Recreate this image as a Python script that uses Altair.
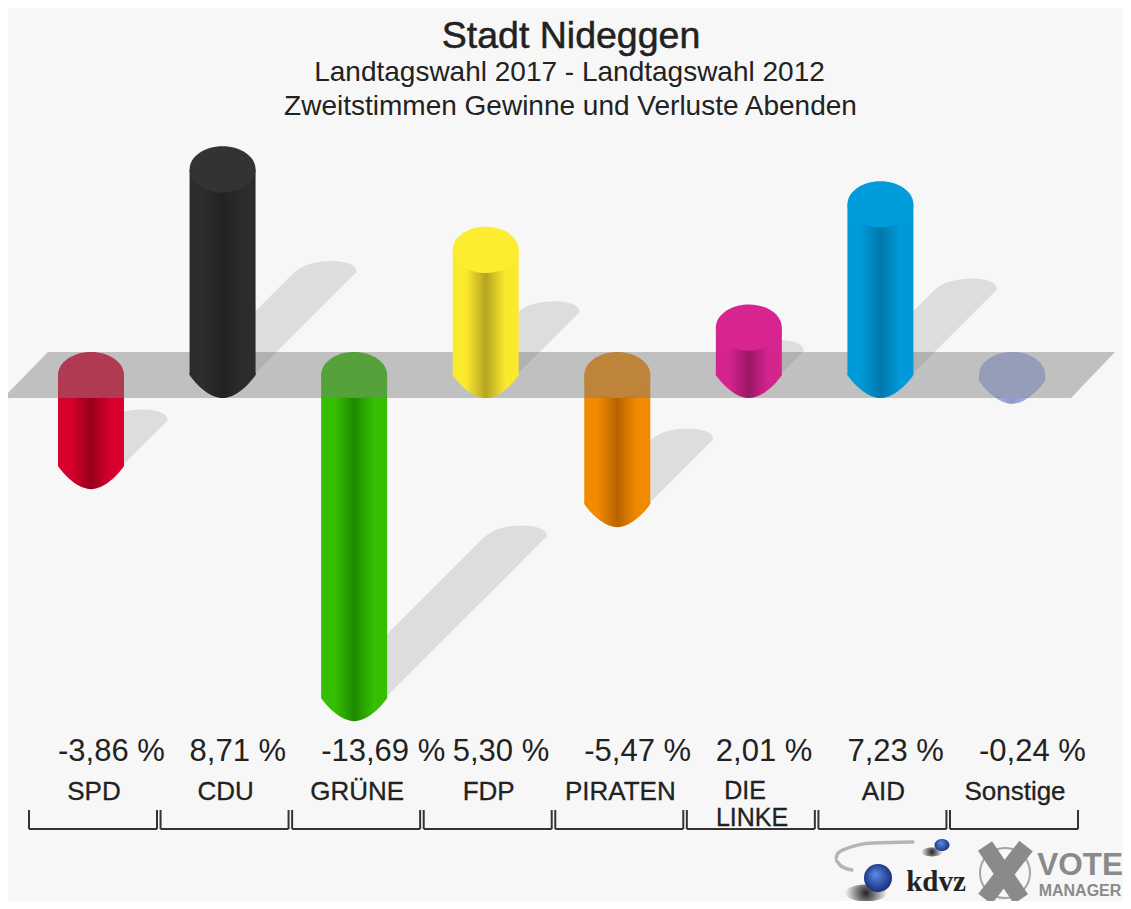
import altair as alt
import pandas as pd

parties = ["SPD", "CDU", "GRÜNE", "FDP", "PIRATEN", "DIE LINKE", "AID", "Sonstige"]
values = [-3.86, 8.71, -13.69, 5.30, -5.47, 2.01, 7.23, -0.24]
value_labels = ["-3,86 %", "8,71 %", "-13,69 %", "5,30 %", "-5,47 %", "2,01 %", "7,23 %", "-0,24 %"]
edge_colors = ["#d8002c", "#2c2c2c", "#34c000", "#fbe92e", "#f28a00", "#d6248e", "#009ada", "#a9b8ea"]
mid_colors = ["#98001c", "#222222", "#1f8a00", "#b5a520", "#b86300", "#9a1766", "#0079aa", "#8c9ac8"]
cap_colors = ["#d8002c", "#333333", "#34c000", "#fdec30", "#f28a00", "#d82491", "#009cdc", "#a9b8ea"]

W, H = 1115, 893
PX_STEP, PY_UNIT = 131.57, 23.6


def X(px):
    return (px - 91) / PX_STEP


def Y(py):
    return (375 - py) / PY_UNIT


x_s = alt.Scale(domain=[X(8), X(1123)], nice=False, zero=False)
y_s = alt.Scale(domain=[Y(901), Y(8)], nice=False, zero=False)
xe = lambda f="x": alt.X(f"{f}:Q", scale=x_s, axis=None)
ye = lambda f="y": alt.Y(f"{f}:Q", scale=y_s, axis=None)
HW = 33 / PX_STEP
ELL = "M-1,0 A1,0.7 0 1 1 1,0 A1,0.7 0 1 1 -1,0 Z"
BOT = "M-1,-0.05 L1,-0.05 L1,0 C0.8,0.3 0.38,0.7 0,0.7 C-0.38,0.7 -0.8,0.3 -1,0 Z"
SHE = "M-1,0.02 C-0.75,-0.25 -0.25,-0.36 0.2,-0.36 C0.6,-0.36 1.05,-0.25 1,0.02 Z"
SHADOW = "#dddddd"


def grad(edge, mid):
    return {"gradient": "linear", "x1": 0, "x2": 1, "y1": 0, "y2": 0,
            "stops": [{"offset": 0, "color": edge}, {"offset": 0.2, "color": edge},
                      {"offset": 0.5, "color": mid}, {"offset": 0.8, "color": edge}, {"offset": 1, "color": edge}]}


def cap(x, y, shape, fill, size=4356, opacity=1):
    return alt.Chart(pd.DataFrame({"x": [x], "y": [y]})).mark_point(
        shape=shape, size=size, filled=True, fill=fill, opacity=opacity, strokeWidth=0
    ).encode(x=xe(), y=ye())


def cylinder(i):
    v = values[i]
    g = grad(edge_colors[i], mid_colors[i])
    body = alt.Chart(pd.DataFrame({"x": [i - HW], "x2": [i + HW], "y": [min(v, 0)], "y2": [max(v, 0)]})).mark_rect(
        fill=g, strokeWidth=0
    ).encode(x=xe(), x2="x2:Q", y=ye(), y2="y2:Q")
    bottom = cap(i, min(v, 0), BOT, g)
    top = cap(i, max(v, 0), ELL, cap_colors[i])
    return [bottom, body, top]


def shadow(i):
    v = values[i]
    base = min(v, 0)
    d = abs(v) / 2
    tip_y = base + d
    dx = d * PY_UNIT / PX_STEP
    sw = 31 / PX_STEP
    area = alt.Chart(pd.DataFrame({"y": [base, tip_y], "x": [i - sw, i + dx - sw], "x2": [i + sw, i + dx + sw]})).mark_area(
        orient="horizontal", fill=SHADOW, opacity=1
    ).encode(x=xe(), x2="x2:Q", y=ye())
    tip = cap(i + dx, tip_y, SHE, SHADOW, size=(2 * 31) ** 2)
    return [area, tip]


layers = []
for i in range(8):
    layers += shadow(i)
for i in range(8):
    if values[i] < 0:
        layers += cylinder(i)

band_x = [X(3), X(48), X(1071), X(1115)]
band_y = [Y(398), Y(352), Y(352), Y(352)]
band_y2 = [Y(398), Y(398), Y(398), Y(352)]
layers.append(
    alt.Chart(pd.DataFrame({"x": band_x, "y": band_y, "y2": band_y2})).mark_area(fill="#7e7e7e", opacity=0.46).encode(
        x=xe(), y=ye(), y2="y2:Q"
    )
)
for i in range(8):
    if values[i] >= 0:
        layers += cylinder(i)


def text(rows, size, color="#222222", align="center", font="Liberation Sans", weight="normal", stroke=None):
    kw = {}
    if stroke:
        kw = {"stroke": color, "strokeWidth": stroke}
    return alt.Chart(pd.DataFrame(rows, columns=["x", "y", "t"])).mark_text(
        fontSize=size, color=color, align=align, baseline="middle", font=font, fontWeight=weight, **kw
    ).encode(x=xe(), y=ye(), text="t:N")


layers.append(text([(X(571), Y(36.5), "Stadt Nideggen")], 37.5, stroke=0.5))
layers.append(text([(X(569.5), Y(73), "Landtagswahl 2017 - Landtagswahl 2012")], 28))
layers.append(text([(X(570.5), Y(107), "Zweitstimmen Gewinne und Verluste Abenden")], 28))
layers.append(text([(i - HW, Y(752), value_labels[i]) for i in range(8)], 31, align="left"))

name_rows = []
for i, p in enumerate(parties):
    if p != "DIE LINKE":
        name_rows.append((i + 3 / PX_STEP, Y(791.5), p))
layers.append(text(name_rows, 26, stroke=0.3))
layers.append(text([(X(745), Y(790.5), "DIE"), (X(752), Y(818), "LINKE")], 25, stroke=0.3))

# brackets below the party names
br_rows = []
for i in range(8):
    l, r = i - 62 / PX_STEP, i + 66 / PX_STEP
    br_rows += [(l, Y(810), l, Y(829)), (l, Y(829), r, Y(829)), (r, Y(810), r, Y(829))]
layers.append(
    alt.Chart(pd.DataFrame(br_rows, columns=["x", "y", "x2", "y2"])).mark_rule(color="#333333", strokeWidth=2).encode(
        x=xe(), y=ye(), x2="x2:Q", y2="y2:Q"
    )
)

# logo: kdvz
sw_x = [913, 873, 848, 838, 835, 841, 852]
sw_y = [842, 843, 848, 853, 860, 866, 870]
layers.append(
    alt.Chart(pd.DataFrame({"x": [X(a) for a in sw_x], "y": [Y(a) for a in sw_y], "o": list(range(len(sw_x)))})).mark_line(
        color="#b5b5b5", strokeWidth=3.5, interpolate="monotone", strokeCap="round"
    ).encode(x=xe(), y=ye(), order="o:Q")
)
DARK = {"gradient": "radial", "stops": [{"offset": 0, "color": "#222222"}, {"offset": 1, "color": "#f7f7f7"}]}
BLUE = {"gradient": "radial", "x1": 0.4, "y1": 0.35, "r1": 0, "x2": 0.5, "y2": 0.5, "r2": 0.6,
        "stops": [{"offset": 0, "color": "#5c8be8"}, {"offset": 1, "color": "#12226e"}]}
layers.append(cap(X(866), Y(893), "M-1,0 A1,0.4 0 1 1 1,0 A1,0.4 0 1 1 -1,0 Z", DARK, size=42**2))
layers.append(cap(X(878), Y(878), "circle", BLUE, size=28**2))
layers.append(cap(X(932), Y(852), "M-1,0 A1,0.4 0 1 1 1,0 A1,0.4 0 1 1 -1,0 Z", DARK, size=22**2))
layers.append(cap(X(942), Y(845), "M-1,0 A1,0.8 0 1 1 1,0 A1,0.8 0 1 1 -1,0 Z", BLUE, size=15**2))
layers.append(text([(X(936), Y(882), "kdvz")], 29, color="#222222", font="Liberation Serif", weight="bold"))

# logo: VOTE MANAGER
layers.append(
    alt.Chart(pd.DataFrame({"x": [X(1005)], "y": [Y(873)]})).mark_point(
        shape="circle", size=50**2, filled=False, stroke="#a5a5a5", strokeWidth=2, opacity=1
    ).encode(x=xe(), y=ye())
)
layers.append(
    alt.Chart(pd.DataFrame({"x": [X(985), X(1026)], "y": [Y(846), Y(846)], "x2": [X(1021), X(985)], "y2": [Y(899), Y(899)]})).mark_rule(
        color="#8a8a8a", strokeWidth=17
    ).encode(x=xe(), y=ye(), x2="x2:Q", y2="y2:Q")
)
layers.append(text([(X(1080), Y(866), "VOTE")], 31.5, color="#8a8a8a", weight="bold"))
layers.append(text([(X(1080), Y(891), "MANAGER")], 16, color="#8a8a8a", weight="bold"))

chart = alt.layer(*layers).properties(
    width=W, height=H, padding=0, background="#f7f7f7",
    autosize=alt.AutoSizeParams(type="none", contains="padding"),
).configure_view(stroke=None)

chart.save("out.html", embed_options={"renderer": "svg", "actions": False})
